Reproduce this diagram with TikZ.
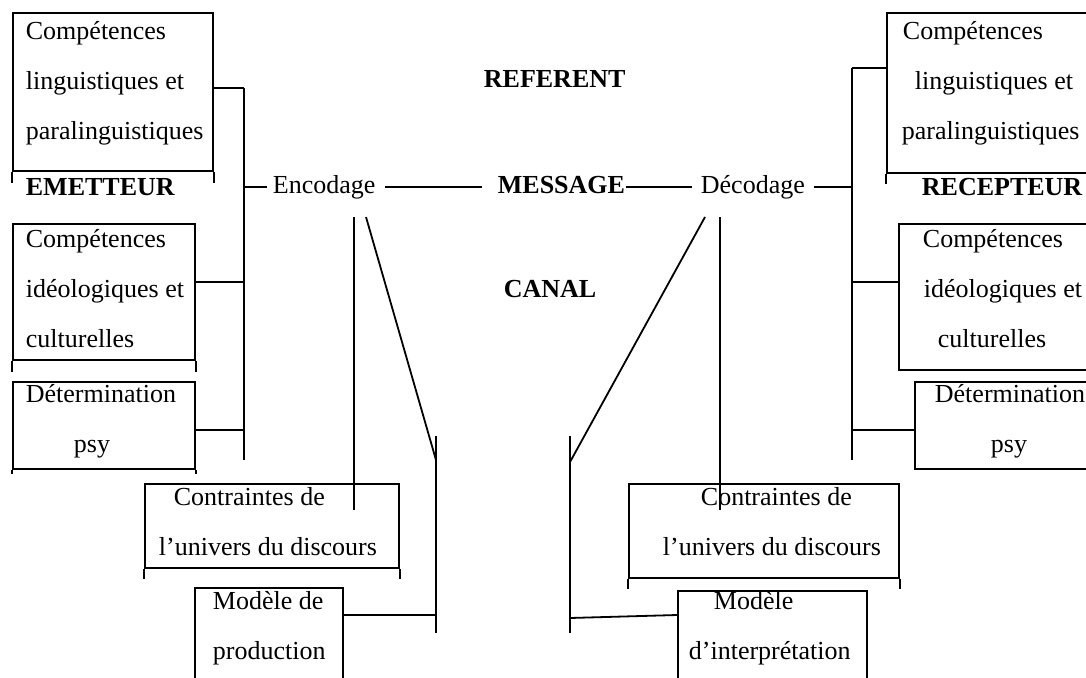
\documentclass[tikz,border=0pt]{standalone}
\usepackage{fontspec}
\setmainfont{Liberation Serif}
\usetikzlibrary{positioning,calc}

\begin{document}
\begin{tikzpicture}[x=1pt, y=-1pt, line width=1.8pt,
    every node/.style={font=\fontsize{26}{50}\selectfont, inner sep=0pt},
    boite/.style={draw, rectangle, anchor=north west},
    texte/.style={anchor=north west, align=left},
    mot/.style={anchor=base west, text height=18pt, text depth=6pt},
    gras/.style={font=\fontsize{26}{50}\selectfont\bfseries}]
      \useasboundingbox (0,0) rectangle (1086,677);
      \clip (0,0) rectangle (1086,677);

      % emetteur
      \node (emA) [boite, minimum width=200, minimum height=158] at (12,12) {};
      \node (emAt) [texte] at (25,21) {Compétences\\linguistiques et\\paralinguistiques};
      \node (emet) [mot, gras] at (25,195) {EMETTEUR};
      \node (emB) [boite, minimum width=182, minimum height=136] at (12,223) {};
      \node (emBt) [texte] at (25,229) {Compétences\\idéologiques et\\culturelles};
      \node (emC) [boite, minimum width=182, minimum height=87] at (12,381) {};
      \node (emCt) [texte] at (25,384) {Détermination\\\hspace*{48pt}psy};

      % recepteur
      \node (reA) [boite, minimum width=210, minimum height=160] at (886,12) {};
      \node (reAt) [texte] at (901,21) {\hspace*{1pt}Compétences\\\hspace*{13pt}linguistiques et\\paralinguistiques};
      \node (recep) [mot, gras] at (921,195) {RECEPTEUR};
      \node (reB) [boite, minimum width=200, minimum height=146] at (898,223) {};
      \node (reBt) [texte] at (922,229) {Compétences\\\hspace*{1pt}idéologiques et\\\hspace*{15pt}culturelles};
      \node (reC) [boite, minimum width=190, minimum height=87] at (914,381) {};
      \node (reCt) [texte] at (934,384) {Détermination\\\hspace*{56pt}psy};

      % milieu
      \node (ref) [mot, gras] at (483,88) {REFERENT};
      \node (canal) [mot, gras] at (503,297) {CANAL};
      \node (enc) [mot] at (272,193) {Encodage};
      \node (msg) [mot, gras] at (497,193) {MESSAGE};
      \node (dec) [mot] at (700,193) {Décodage};

      % bas
      \node (ctrL) [boite, minimum width=254, minimum height=84] at (144,483) {};
      \node (ctrLt) [texte] at (158,487) {\hspace*{15pt}Contraintes de\\l’univers du discours};
      \node (prod) [boite, minimum width=148, minimum height=120] at (194,587) {};
      \node (prodt) [texte] at (212,591) {Modèle de\\production};
      \node (ctrR) [boite, minimum width=270, minimum height=94] at (628,483) {};
      \node (ctrRt) [texte] at (662,487) {\hspace*{38pt}Contraintes de\\l’univers du discours};
      \node (interp) [boite, minimum width=189, minimum height=120] at (677,590) {};
      \node (interpt) [texte] at (688,591) {\hspace*{25pt}Modèle\\d’interprétation};

      % bouts de cadres
      \draw (emA.south west) -- ++(0,11) (emA.south east) -- ++(0,11);
      \draw (emB.south west) -- ++(0,11) (emB.south east) -- ++(0,11);
      \draw (emC.south west) -- ++(0,4) (emC.south east) -- ++(0,4);
      \draw (reA.south west) -- ++(0,10);
      \draw (ctrL.south west) -- ++(0,10) (ctrL.south east) -- ++(0,10);
      \draw (ctrR.south west) -- ++(0,10) (ctrR.south east) -- ++(0,10);

      % liaisons
      \coordinate (busL) at (244,88);
      \coordinate (busLb) at (244,460);
      \coordinate (busR) at (852,68);
      \coordinate (busRb) at (852,460);
      \draw (busL) -- (busLb);
      \draw (busL -| emA.east) -- (busL);
      \draw ([yshift=10pt]emB.east) -- ([yshift=10pt]emB.east -| busL);
      \draw ([yshift=-4.5pt]emC.east) -- ([yshift=-4.5pt]emC.east -| busL);
      \draw (busL |- enc.west) -- ([xshift=-5pt]enc.west);
      \draw ([xshift=9pt]enc.east) -- ([xshift=-15pt]msg.west);
      \draw (msg.east) -- ([xshift=-8pt]dec.west);
      \draw ([xshift=8pt]dec.east) -- (dec.east -| busR);
      \draw (busR) -- (busRb);
      \draw (busR) -- (busR -| reA.west);
      \draw ([yshift=15pt]reB.west) -- ([yshift=15pt]reB.west -| busR);
      \draw ([yshift=-4.5pt]reC.west) -- ([yshift=-4.5pt]reC.west -| busR);

      % encodage vers le bas
      \coordinate (encV) at (354,217);
      \coordinate (encVb) at (354,510);
      \coordinate (encD) at (366,217);
      \coordinate (prodJ) at (436,460);
      \coordinate (prodT) at (436,436);
      \coordinate (prodB) at (436,633);
      \coordinate (prodK) at (436,615);
      \draw (encV) -- (encVb);
      \draw (encD) -- (prodJ);
      \draw (prodT) -- (prodB);
      \draw (prodK) -- (prodK -| prod.east);

      % decodage vers le bas
      \coordinate (decV) at (720,217);
      \coordinate (decVb) at (720,510);
      \coordinate (decD) at (705,217);
      \coordinate (interJ) at (570,462);
      \coordinate (interT) at (570,436);
      \coordinate (interB) at (570,633);
      \coordinate (interK) at (570,618);
      \draw (decV) -- (decVb);
      \draw (decD) -- (interJ);
      \draw (interT) -- (interB);
      \draw (interK) -- ($(interp.north west)+(0,25)$);
    \end{tikzpicture}
\end{document}
